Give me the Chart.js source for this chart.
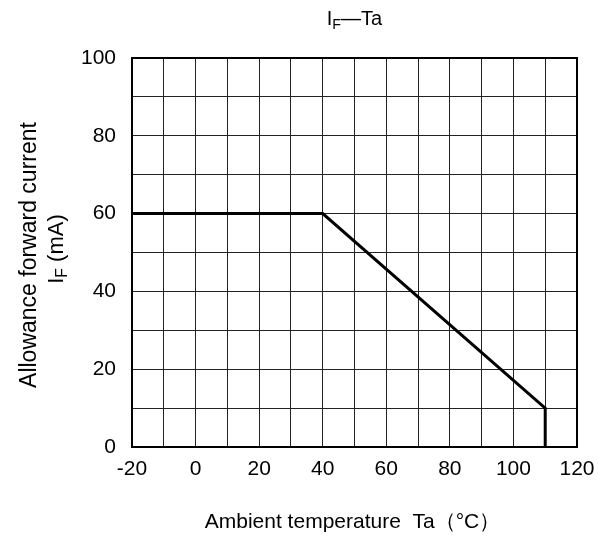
<!DOCTYPE html>
<html>
<head>
<meta charset="utf-8">
<script src="https://cdn.jsdelivr.net/npm/chart.js@4.4.1/dist/chart.umd.min.js"></script>
<style>
  html, body { margin: 0; padding: 0; background: #fff; }
  #wrap { width: 598px; height: 541px; }
</style>
</head>
<body>
<div id="wrap"><canvas id="chartIF"></canvas></div>
<script>
const temps = [-20, 40, 110, 110];
const currents = [60, 60, 10, 0];
const xLimits = [-20, 120];
const yLimits = [0, 100];

const FONT = "'Liberation Sans', Arial, sans-serif";

// draws text with a subscript piece, parts = [[text, isSub], ...], centered on x
function drawParts(ctx, parts, x, y, size) {
    let total = 0;
    parts.forEach(p => {
        ctx.font = (p[1] ? size * 0.72 : size) + "px " + FONT;
        total += ctx.measureText(p[0]).width;
    });
    let cx = x - total / 2;
    ctx.textAlign = "left";
    ctx.textBaseline = "alphabetic";
    parts.forEach(p => {
        ctx.font = (p[1] ? size * 0.72 : size) + "px " + FONT;
        ctx.fillText(p[0], cx, p[1] ? y + size * 0.2 : y);
        cx += ctx.measureText(p[0]).width;
    });
}

const labelsPlugin = {
    id: "labelsPlugin",
    afterDraw(chart) {
        const ctx = chart.ctx;
        const a = chart.chartArea;
        const midX = (a.left + a.right) / 2;
        ctx.save();
        ctx.fillStyle = "#000";
        // frame
        ctx.strokeStyle = "#000";
        ctx.lineWidth = 2;
        ctx.strokeRect(a.left, a.top, a.right - a.left, a.bottom - a.top);
        // title
        drawParts(ctx, [["I", false], ["F", true], ["\u2014Ta", false]], midX, 25, 20);
        // x axis title
        drawParts(ctx, [["Ambient temperature  Ta\uFF08\u00B0C\uFF09", false]], midX - 2, 528, 21);
        // y axis title
        ctx.translate(0, (a.top + a.bottom) / 2);
        ctx.rotate(-Math.PI / 2);
        drawParts(ctx, [["Allowance forward current", false]], -2.5, 36, 23);
        drawParts(ctx, [["I", false], ["F", true], [" (mA)", false]], 3.5, 63, 22);
        ctx.restore();
    }
};

new Chart(document.getElementById("chartIF"), {
    type: "line",
    data: {
        datasets: [{
            data: temps.map((t, i) => ({ x: t, y: currents[i] })),
            borderColor: "#000",
            borderWidth: 3,
            pointRadius: 0,
            tension: 0,
            fill: false
        }]
    },
    options: {
        responsive: true,
        maintainAspectRatio: false,
        animation: false,
        layout: { padding: { top: 58, right: 21, left: 0, bottom: 0 } },
        plugins: { legend: { display: false }, tooltip: { enabled: false }, title: { display: false } },
        scales: {
            x: {
                type: "linear",
                min: xLimits[0],
                max: xLimits[1],
                afterFit(scale) { scale.height = 94; scale.paddingRight = 0; scale.paddingLeft = 0; },
                grid: { color: "#222", lineWidth: 1, drawTicks: false },
                border: { display: false },
                ticks: {
                    stepSize: 10,
                    autoSkip: false,
                    maxRotation: 0,
                    padding: 10,
                    color: "#000",
                    font: { family: FONT, size: 21 },
                    callback: v => (v % 20 === 0 ? String(v) : "")
                }
            },
            y: {
                min: yLimits[0],
                max: yLimits[1],
                afterFit(scale) { scale.width = 132; },
                grid: { color: "#222", lineWidth: 1, drawTicks: false },
                border: { display: false },
                ticks: {
                    stepSize: 10,
                    autoSkip: false,
                    padding: 16,
                    color: "#000",
                    font: { family: FONT, size: 21 },
                    callback: v => (v % 20 === 0 ? String(v) : "")
                }
            }
        }
    },
    plugins: [labelsPlugin]
});
</script>
</body>
</html>
